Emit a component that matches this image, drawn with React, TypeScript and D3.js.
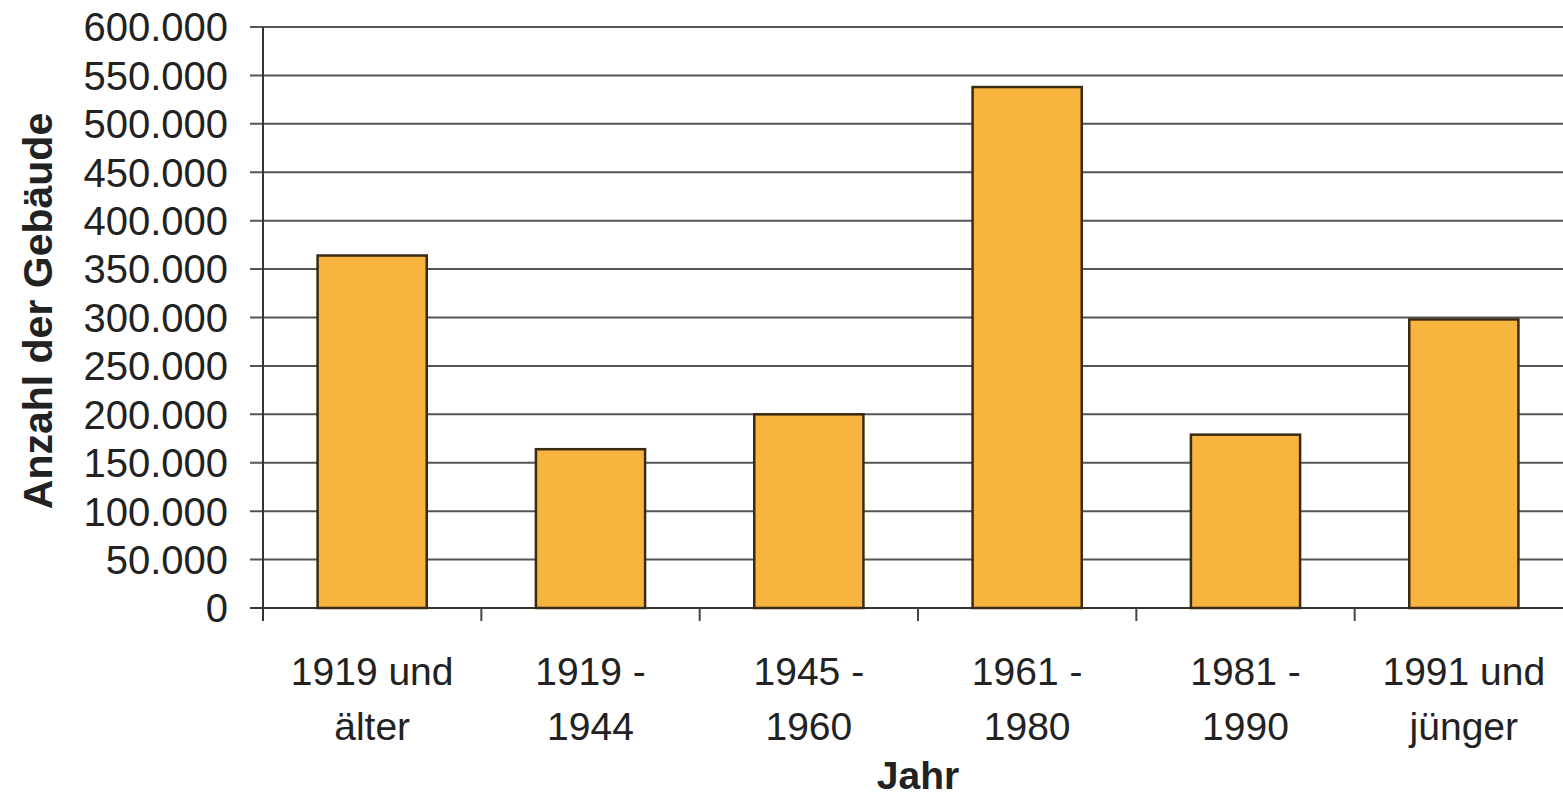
import * as d3 from 'd3';
import React from 'react';

// Baujahr-Klassen und Anzahl der Gebäude
const categories: string[][] = [
  ['1919 und', 'älter'],
  ['1919 -', '1944'],
  ['1945 -', '1960'],
  ['1961 -', '1980'],
  ['1981 -', '1990'],
  ['1991 und', 'jünger'],
];
const values: number[] = [364000, 164000, 200000, 538000, 179000, 298000];
const yTicks: number[] = [0, 50000, 100000, 150000, 200000, 250000, 300000, 350000, 400000, 450000, 500000, 550000, 600000];

const W = 1563;
const H = 797;
const margin = { top: 27, right: -10, bottom: 189, left: 263 };

const fmt = (v: number) => (v === 0 ? '0' : d3.format(',')(v).replace(/,/g, '.'));

export default function App() {
  const x = d3
    .scaleBand<number>()
    .domain(d3.range(categories.length))
    .range([margin.left, W - margin.right])
    .paddingInner(0.5)
    .paddingOuter(0.25);
  const band = d3.scaleBand<number>().domain(d3.range(categories.length)).range([margin.left, W - margin.right]);
  const y = d3.scaleLinear().domain([0, 600000]).range([H - margin.bottom, margin.top]);
  const y0 = y(0);
  const font = 'Arial, "Liberation Sans", sans-serif';

  return (
    <svg width={W} height={H} style={{ position: 'absolute', left: 0, top: 0, background: '#fff' }}>
      {/* gridlines + y ticks */}
      {yTicks.map(t => (
        <g key={t}>
          <line x1={margin.left - 13} x2={W} y1={y(t)} y2={y(t)} stroke={t === 0 ? '#333' : '#555'} strokeWidth={2} />
          <text x={228} y={y(t)} dy="0.36em" textAnchor="end" fontFamily={font} fontSize={40} fill="#222">
            {fmt(t)}
          </text>
        </g>
      ))}
      {/* y axis line */}
      <line x1={margin.left} x2={margin.left} y1={margin.top} y2={y0 + 13} stroke="#333" strokeWidth={2} />
      {/* x ticks */}
      {categories.map((_, i) => (
        <line key={i} x1={band(i)! + band.bandwidth()} x2={band(i)! + band.bandwidth()} y1={y0} y2={y0 + 13} stroke="#444" strokeWidth={2} />
      ))}
      {/* bars */}
      {values.map((v, i) => (
        <rect
          key={i}
          x={x(i)}
          y={y(v)}
          width={x.bandwidth()}
          height={y0 - y(v)}
          fill="#F7B43F"
          stroke="#3a2a12"
          strokeWidth={2.5}
        />
      ))}
      {/* category labels */}
      {categories.map((lines, i) => (
        <text key={i} textAnchor="middle" fontFamily={font} fontSize={39} fill="#222">
          {lines.map((l, j) => (
            <tspan key={j} x={band(i)! + band.bandwidth() / 2} y={685 + j * 55}>
              {l}
            </tspan>
          ))}
        </text>
      ))}
      {/* axis titles */}
      <text x={(margin.left + band(5)! + band.bandwidth()) / 2} y={789} textAnchor="middle" fontFamily={font} fontSize={39} fontWeight="bold" fill="#222">
        Jahr
      </text>
      <text
        transform={`translate(52, 311) rotate(-90)`}
        textAnchor="middle"
        fontFamily={font}
        fontSize={41}
        fontWeight="bold"
        fill="#222"
      >
        Anzahl der Gebäude
      </text>
    </svg>
  );
}
